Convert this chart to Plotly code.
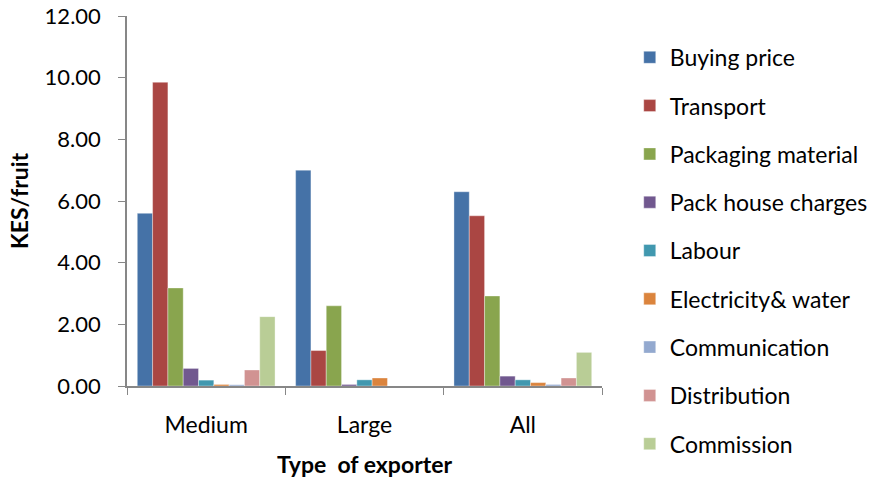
import plotly.graph_objects as go

# Cost components per exporter type (KES per fruit)
exporter_types = ["Medium", "Large", "All"]
cost_items = [
    "Buying price", "Transport", "Packaging material", "Pack house charges",
    "Labour", "Electricity& water", "Communication", "Distribution", "Commission",
]
buying_price = [5.60, 7.00, 6.30]
transport = [9.85, 1.15, 5.52]
packaging_material = [3.18, 2.60, 2.92]
pack_house_charges = [0.57, 0.05, 0.32]
labour = [0.19, 0.20, 0.20]
electricity_water = [0.05, 0.26, 0.11]
communication = [0.04, 0.00, 0.05]
distribution = [0.52, 0.00, 0.26]
commission = [2.25, 0.00, 1.09]

series = [
    buying_price, transport, packaging_material, pack_house_charges,
    labour, electricity_water, communication, distribution, commission,
]
colors = [
    "#4572A7", "#AA4643", "#89A54E", "#71588F", "#4198AF",
    "#DB843D", "#93A9CF", "#D19392", "#B9CD96",
]

FONT = "Lato"
AXIS_GREY = "#878787"

fig = go.Figure()
for name, vals, col in zip(cost_items, series, colors):
    fig.add_trace(go.Bar(
        x=exporter_types, y=vals, name=name, legendgroup=name,
        marker=dict(color=col, line=dict(color="rgba(255,255,255,0.6)", width=0.6)),
    ))

fig.update_layout(
    width=882, height=478,
    margin=dict(l=127, r=280, t=16, b=92, autoexpand=False),
    paper_bgcolor="white", plot_bgcolor="white",
    barmode="group", bargap=0.13, bargroupgap=0,
    font=dict(family=FONT, size=23, color="#000000"),
    showlegend=True,
    legend=dict(
        xref="container", x=0.714, xanchor="left",
        yref="container", y=0.925, yanchor="top",
        font=dict(family=FONT, size=23, color="#000000"),
        tracegroupgap=15.4, itemwidth=30, maxheight=478,
        bgcolor="rgba(0,0,0,0)",
    ),
    xaxis=dict(
        showline=True, linecolor=AXIS_GREY, linewidth=1.5,
        ticks="outside", tickson="boundaries", ticklen=7, tickcolor=AXIS_GREY,
        tickfont=dict(family=FONT, size=23), ticklabelstandoff=18,
        title=dict(text="<b>Type  of exporter</b>", font=dict(family=FONT, size=23), standoff=24),
    ),
    yaxis=dict(
        range=[0, 12], dtick=2, tickformat=".2f",
        showline=True, linecolor=AXIS_GREY, linewidth=1.5,
        ticks="outside", ticklen=7, tickcolor=AXIS_GREY,
        showgrid=False, zeroline=False,
        tickfont=dict(family=FONT, size=22), ticklabelstandoff=13,
        title=dict(text="<b>KES/fruit</b>", font=dict(family=FONT, size=23), standoff=10),
    ),
)

fig.write_html("out.html")
